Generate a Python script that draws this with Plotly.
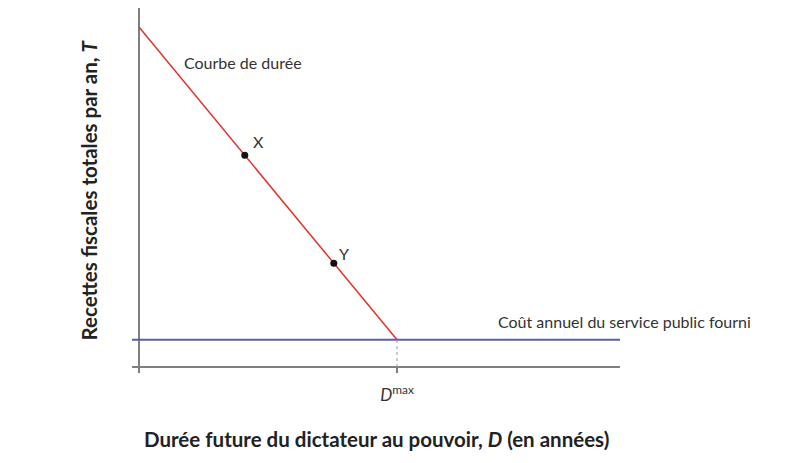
import plotly.graph_objects as go

# data (arbitrary units)
d_max = 100
curve_x = [0, 100]
curve_y = [100, 8]
cost_x = [-2.7, 186.4]
cost_y = [8, 8]
point_x = [41, 75.5]
point_y = [62.3, 30.5]

FONT = "Lato"
TXT = "#333333"
AXIS = "#7f7f7f"

fig = go.Figure()

fig.add_scatter(
    x=cost_x, y=cost_y, mode="lines",
    line={"color": "#5b5ea6", "width": 2},
    hoverinfo="skip", showlegend=False,
)
fig.add_scatter(
    x=[d_max, d_max], y=[0, cost_y[0]], mode="lines",
    line={"color": "#999999", "width": 1, "dash": "3px,3px"},
    hoverinfo="skip", showlegend=False,
)
fig.add_scatter(
    x=curve_x, y=curve_y, mode="lines",
    line={"color": "#e4312b", "width": 1.5},
    hoverinfo="skip", showlegend=False,
)
fig.add_scatter(
    x=point_x, y=point_y, mode="markers",
    marker={"color": "#111111", "size": 7},
    hoverinfo="skip", showlegend=False,
)

labels = [
    ("Courbe de durée", 16.7, 89.7, "left"),
    ("X", 46.5, 66.2, "center"),
    ("Y", 79.5, 33.5, "center"),
    ("Coût annuel du service public fourni", 138.4, 13.5, "left"),
]
for text, x, y, anchor in labels:
    fig.add_annotation(
        x=x, y=y, text=text, showarrow=False, xanchor=anchor, yanchor="middle",
        font={"family": FONT, "size": 16, "color": TXT},
    )

# axis titles
fig.add_annotation(
    x=0.5, y=0, xref="paper", yref="paper", yshift=-66,
    text="<b>Durée future du dictateur au pouvoir, <i>D</i> (en années)</b>",
    showarrow=False, xanchor="center", yanchor="middle",
    font={"family": FONT, "size": 20.5, "color": "#222222"},
)
fig.add_annotation(
    x=0, y=0.5, xref="paper", yref="paper", xshift=-44,
    text="<b>Recettes fiscales totales par an, <i>T</i></b>",
    showarrow=False, textangle=-90, xanchor="center", yanchor="middle",
    font={"family": FONT, "size": 20.5, "color": "#222222"},
)

fig.update_xaxes(
    range=[cost_x[0], cost_x[1]],
    showgrid=False, showline=False,
    zeroline=True, zerolinecolor=AXIS, zerolinewidth=1.5,
    tickmode="array", tickvals=[d_max], ticktext=["<i>D</i><sup>max</sup>"],
    ticks="inside", ticklen=6, tickcolor=AXIS, tickwidth=1.5,
    ticklabelstandoff=10,
    tickfont={"family": FONT, "size": 17, "color": TXT},
)
fig.update_yaxes(
    range=[-1.76, 105.6],
    showgrid=False, showline=False, showticklabels=False,
    zeroline=True, zerolinecolor=AXIS, zerolinewidth=1.5,
)

fig.update_layout(
    width=802, height=455,
    margin={"l": 124, "r": 190, "t": 0, "b": 90},
    plot_bgcolor="white", paper_bgcolor="white",
)

fig.write_html("out.html")
